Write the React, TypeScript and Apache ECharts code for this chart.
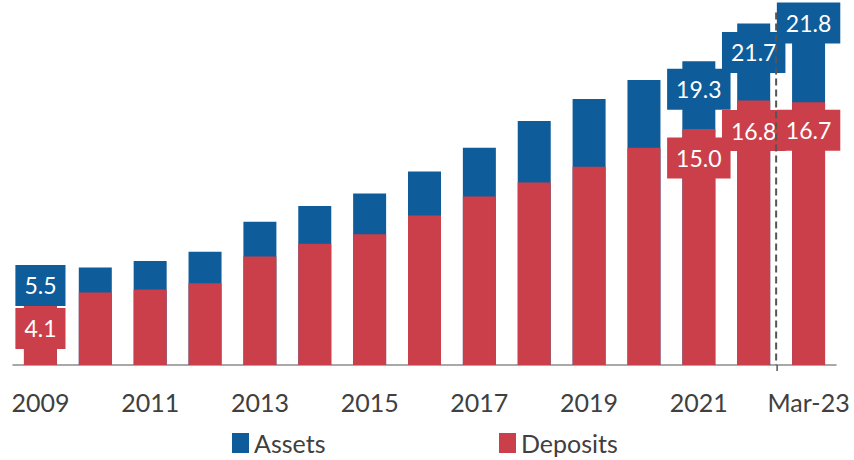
import React, { useEffect, useRef } from "react";
import * as echarts from "echarts";

const categories = ["2009", "2010", "2011", "2012", "2013", "2014", "2015", "2016", "2017", "2018", "2019", "2020", "2021", "2022", "Mar-23"];
const assets = [5.5, 6.2, 6.6, 7.2, 9.1, 10.1, 10.9, 12.3, 13.8, 15.5, 16.9, 18.1, 19.3, 21.7, 21.8];
const deposits = [4.1, 4.6, 4.8, 5.2, 6.9, 7.7, 8.3, 9.5, 10.7, 11.6, 12.6, 13.8, 15.0, 16.8, 16.7];
const labelledIndices = [0, 12, 13, 14];

const BLUE = "#0e5c9a";
const RED = "#cb3f4a";
const FONT = "Lato, 'Open Sans', sans-serif";

const assetsLabelDy: Record<number, number> = { 0: 7, 12: 28, 13: 29, 14: 1 };
const depositsLabelDy: Record<number, number> = { 0: 28, 12: 29, 13: 30, 14: 28 };

function buildData(values: number[], color: string, dy: Record<number, number>) {
  return values.map((v, i) => {
    if (!labelledIndices.includes(i)) return v;
    return {
      value: v,
      label: {
        show: true,
        position: ["50%", 0],
        align: "center",
        verticalAlign: "middle",
        offset: [0, dy[i]],
        formatter: (p: any) => Number(p.value).toFixed(1),
        color: "#ffffff",
        fontFamily: FONT,
        fontSize: 23,
        lineHeight: 28,
        backgroundColor: color,
        padding: [7, 9, 6, 9],
      },
    };
  });
}

export default function App() {
  const ref = useRef<HTMLDivElement>(null);
  useEffect(() => {
    document.body.style.margin = "0";
    if (!ref.current) return;
    const chart = echarts.init(ref.current, null, { renderer: "svg" });
    const legendBase = {
      top: 428,
      padding: 0,
      itemWidth: 17,
      itemHeight: 20,
      icon: "rect",
      textStyle: { color: "#404040", fontFamily: FONT, fontSize: 25, lineHeight: 30 },
    };
    chart.setOption({
      animation: false,
      grid: { left: 13, right: 18, top: 3, bottom: 95 },
      legend: [
        { ...legendBase, data: ["Assets"], left: 232 },
        { ...legendBase, data: ["Deposits"], left: 499 },
      ],
      xAxis: {
        type: "category",
        data: categories,
        axisLine: { lineStyle: { color: "#8c8c8c", width: 1.5 } },
        axisTick: { show: false },
        axisLabel: {
          interval: 1,
          color: "#404040",
          fontFamily: FONT,
          fontSize: 25,
          margin: 24,
        },
      },
      yAxis: {
        type: "value",
        min: 0,
        max: 23,
        show: false,
        splitLine: { show: false },
      },
      series: [
        {
          name: "Assets",
          type: "bar",
          barWidth: 33,
          barGap: "-100%",
          itemStyle: { color: BLUE },
          data: buildData(assets, BLUE, assetsLabelDy),
        },
        {
          name: "Deposits",
          type: "bar",
          barWidth: 33,
          barGap: "-100%",
          itemStyle: { color: RED },
          data: buildData(deposits, RED, depositsLabelDy),
        },
      ],
    });
    const x1 = chart.convertToPixel({ xAxisIndex: 0 }, categories[13]) as number;
    const x2 = chart.convertToPixel({ xAxisIndex: 0 }, categories[14]) as number;
    const yBase = chart.convertToPixel({ yAxisIndex: 0 }, 0) as number;
    const yTop = chart.convertToPixel({ yAxisIndex: 0 }, 22.4) as number;
    const xm = (x1 + x2) / 2 - 5;
    chart.setOption({
      graphic: [
        {
          type: "line",
          shape: { x1: xm, y1: yTop, x2: xm, y2: yBase },
          style: { stroke: "#555555", lineWidth: 2, lineDash: [7, 4] },
          z: 100,
        },
        {
          type: "line",
          shape: { x1: xm + 1, y1: yBase, x2: xm + 1, y2: yBase + 6 },
          style: { stroke: "#555555", lineWidth: 1.5 },
          z: 100,
        },
      ],
    });
    return () => chart.dispose();
  }, []);
  return <div ref={ref} style={{ width: 854, height: 460 }} />;
}
